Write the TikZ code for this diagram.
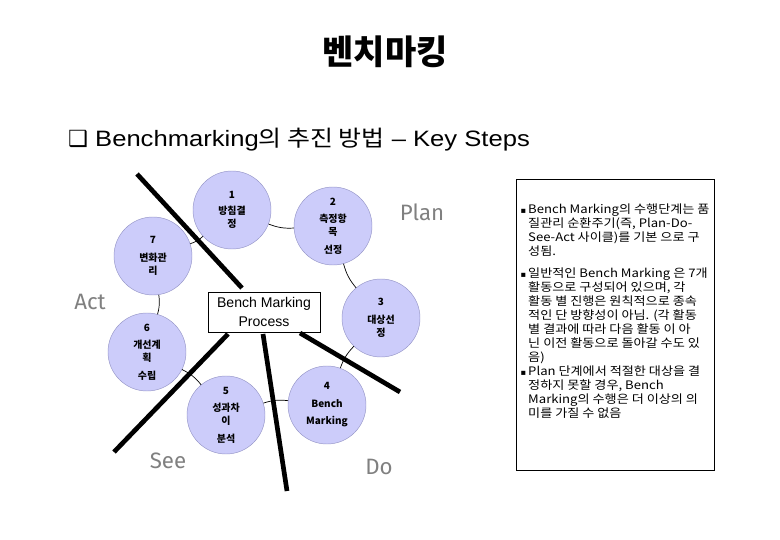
\documentclass[tikz,border=0pt]{standalone}
\usepackage{fontspec}
\setmainfont{Liberation Sans}
\newfontfamily\wide[FakeStretch=1.15]{Liberation Sans}
\newfontfamily\kr{Noto Sans CJK KR}
\newfontfamily\krwide[FakeStretch=1.12]{Noto Sans CJK KR}
\newfontfamily\sym{DejaVu Sans}
\newfontfamily\hand{Fira Sans}
\usetikzlibrary{
		positioning
	}
\definecolor{stagefill}{RGB}{204,204,250}
\definecolor{stageline}{RGB}{150,150,200}
\definecolor{pdsa}{RGB}{128,128,128}
\tikzset{
		stage/.style={circle, draw=stageline, fill=stagefill, minimum size=2.34cm,
			inner sep=0pt, align=center, font=\kr\bfseries\fontsize{8.5}{11}\selectfont},
		link/.style={line width=0.6pt},
		divider/.style={line width=4pt},
		cycle/.style={text=pdsa, font=\hand\fontsize{19}{22}\selectfont},
		note/.style={anchor=north west, align=left, inner sep=0pt,
			font=\krwide\fontsize{10}{11.9}\selectfont}
	}

\begin{document}
\begin{tikzpicture}[x=0.03cm, y=-0.03cm]
    \useasboundingbox (0,0) rectangle (780,540);

    % the titles
    \node (title) at (385,52) {\kr\bfseries\fontsize{29}{34}\selectfont 벤치마킹};
    \node[anchor=west, font=\wide\fontsize{19}{22}\selectfont] (subtitle) at (64,140)
        {{\sym ❑} Benchmarking{\krwide 의 추진 방법} – Key Steps};

    % the seven stages of the cycle
    \node[stage] (s1) at (232,210) {1\\[3pt]방침결\\정};
    \node[stage] (s2) at (333,226) {2\\[4pt]측정항\\목\\[4pt]선정};
    \node[stage] (s3) at (381,318) {3\\[4pt]대상선\\정};
    \node[stage] (s4) at (327,405) {4\\[4pt]Bench\\[4pt]Marking};
    \node[stage] (s5) at (226,415) {5\\[4pt]성과차\\이\\[4pt]분석};
    \node[stage] (s6) at (147,352) {6\\[4pt]개선계\\획\\[4pt]수립};
    \node[stage] (s7) at (153,256) {7\\[4pt]변화관\\리};

    % thin links between the stages
    \draw[link] (s1) to[bend right=12] (s2);
    \draw[link] (s2) to[bend right=12] (s3);
    \draw[link] (s3) to[bend right=12] (s4);
    \draw[link] (s4) to[bend right=12] (s5);
    \draw[link] (s5) to[bend right=12] (s6);
    \draw[link] (s6) to[bend right=12] (s7);
    \draw[link] (s7) to[bend right=12] (s1);

    % the box in the middle
    \node[draw, fill=white, align=center, minimum width=3.36cm, minimum height=1.2cm,
        font=\fontsize{12}{17}\selectfont] (process) at (264,312) {Bench Marking\\Process};

    % the thick lines that split the cycle
    \coordinate (d1a) at (137,174);
    \coordinate (d1b) at (242,288);
    \coordinate (d2a) at (228,334);
    \coordinate (d2b) at (114,452);
    \coordinate (d3a) at (263,334);
    \coordinate (d3b) at (287,491);
    \coordinate (d4a) at (300,333);
    \coordinate (d4b) at (400,392);
    \draw[divider] (d1a) -- (d1b);
    \draw[divider] (d2a) -- (d2b);
    \draw[divider] (d3a) -- (d3b);
    \draw[divider] (d4a) -- (d4b);

    % plan, do, see, act
    \node[cycle] (plan) at (422,212) {Plan};
    \node[cycle] (act) at (90,302) {Act};
    \node[cycle] (see) at (168,461) {See};
    \node[cycle] (do) at (379,467) {Do};

    % the notes on the right
    \draw[line width=0.6pt] (516,179) rectangle (714,470);
    \node[note] (n1) at (528,204) {\llap{{\sym\fontsize{7}{8}\selectfont ▪}\,}Bench Marking의 수행단계는 품\\
        질관리 순환주기(즉, Plan-Do-\\See-Act 사이클)를 기본 으로 구\\성됨.};
    \node[note] (n2) at (528,268) {\llap{{\sym\fontsize{7}{8}\selectfont ▪}\,}일반적인 Bench Marking 은 7개\\
        활동으로 구성되어 있으며, 각\\활동 별 진행은 원칙적으로 종속\\적인 단 방향성이 아님. (각 활동\\
        별 결과에 따라 다음 활동 이 아\\닌 이전 활동으로 돌아갈 수도 있\\음)};
    \node[note] (n3) at (528,366) {\llap{{\sym\fontsize{7}{8}\selectfont ▪}\,}Plan 단계에서 적절한 대상을 결\\
        정하지 못할 경우, Bench\\Marking의 수행은 더 이상의 의\\미를 가질 수 없음};

\end{tikzpicture}
\end{document}
